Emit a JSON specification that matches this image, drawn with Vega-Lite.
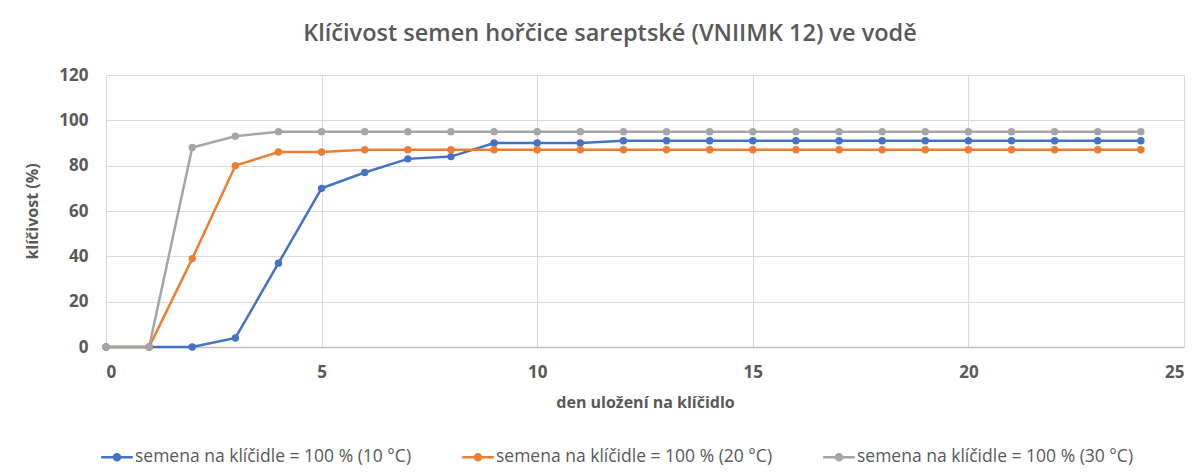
{
  "$schema": "https://vega.github.io/schema/vega-lite/v6.json",
  "width": 1078,
  "height": 272,
  "autosize": "none",
  "padding": {"left": 106, "top": 75, "right": 20, "bottom": 128},
  "background": "#ffffff",
  "title": {
    "text": "Klíčivost semen hořčice sareptské (VNIIMK 12) ve vodě",
    "font": "Open Sans",
    "fontSize": 23.5,
    "fontWeight": 600,
    "color": "#595959",
    "anchor": "middle",
    "dx": -35,
    "offset": 21
  },
  "data": {
    "values": [
      {"d":0,"v":0,"s":"semena na klíčidle = 100 % (10 °C)"},
      {"d":1,"v":0,"s":"semena na klíčidle = 100 % (10 °C)"},
      {"d":2,"v":0,"s":"semena na klíčidle = 100 % (10 °C)"},
      {"d":3,"v":4,"s":"semena na klíčidle = 100 % (10 °C)"},
      {"d":4,"v":37,"s":"semena na klíčidle = 100 % (10 °C)"},
      {"d":5,"v":70,"s":"semena na klíčidle = 100 % (10 °C)"},
      {"d":6,"v":77,"s":"semena na klíčidle = 100 % (10 °C)"},
      {"d":7,"v":83,"s":"semena na klíčidle = 100 % (10 °C)"},
      {"d":8,"v":84,"s":"semena na klíčidle = 100 % (10 °C)"},
      {"d":9,"v":90,"s":"semena na klíčidle = 100 % (10 °C)"},
      {"d":10,"v":90,"s":"semena na klíčidle = 100 % (10 °C)"},
      {"d":11,"v":90,"s":"semena na klíčidle = 100 % (10 °C)"},
      {"d":12,"v":91,"s":"semena na klíčidle = 100 % (10 °C)"},
      {"d":13,"v":91,"s":"semena na klíčidle = 100 % (10 °C)"},
      {"d":14,"v":91,"s":"semena na klíčidle = 100 % (10 °C)"},
      {"d":15,"v":91,"s":"semena na klíčidle = 100 % (10 °C)"},
      {"d":16,"v":91,"s":"semena na klíčidle = 100 % (10 °C)"},
      {"d":17,"v":91,"s":"semena na klíčidle = 100 % (10 °C)"},
      {"d":18,"v":91,"s":"semena na klíčidle = 100 % (10 °C)"},
      {"d":19,"v":91,"s":"semena na klíčidle = 100 % (10 °C)"},
      {"d":20,"v":91,"s":"semena na klíčidle = 100 % (10 °C)"},
      {"d":21,"v":91,"s":"semena na klíčidle = 100 % (10 °C)"},
      {"d":22,"v":91,"s":"semena na klíčidle = 100 % (10 °C)"},
      {"d":23,"v":91,"s":"semena na klíčidle = 100 % (10 °C)"},
      {"d":24,"v":91,"s":"semena na klíčidle = 100 % (10 °C)"},
      {"d":0,"v":0,"s":"semena na klíčidle = 100 % (20 °C)"},
      {"d":1,"v":0,"s":"semena na klíčidle = 100 % (20 °C)"},
      {"d":2,"v":39,"s":"semena na klíčidle = 100 % (20 °C)"},
      {"d":3,"v":80,"s":"semena na klíčidle = 100 % (20 °C)"},
      {"d":4,"v":86,"s":"semena na klíčidle = 100 % (20 °C)"},
      {"d":5,"v":86,"s":"semena na klíčidle = 100 % (20 °C)"},
      {"d":6,"v":87,"s":"semena na klíčidle = 100 % (20 °C)"},
      {"d":7,"v":87,"s":"semena na klíčidle = 100 % (20 °C)"},
      {"d":8,"v":87,"s":"semena na klíčidle = 100 % (20 °C)"},
      {"d":9,"v":87,"s":"semena na klíčidle = 100 % (20 °C)"},
      {"d":10,"v":87,"s":"semena na klíčidle = 100 % (20 °C)"},
      {"d":11,"v":87,"s":"semena na klíčidle = 100 % (20 °C)"},
      {"d":12,"v":87,"s":"semena na klíčidle = 100 % (20 °C)"},
      {"d":13,"v":87,"s":"semena na klíčidle = 100 % (20 °C)"},
      {"d":14,"v":87,"s":"semena na klíčidle = 100 % (20 °C)"},
      {"d":15,"v":87,"s":"semena na klíčidle = 100 % (20 °C)"},
      {"d":16,"v":87,"s":"semena na klíčidle = 100 % (20 °C)"},
      {"d":17,"v":87,"s":"semena na klíčidle = 100 % (20 °C)"},
      {"d":18,"v":87,"s":"semena na klíčidle = 100 % (20 °C)"},
      {"d":19,"v":87,"s":"semena na klíčidle = 100 % (20 °C)"},
      {"d":20,"v":87,"s":"semena na klíčidle = 100 % (20 °C)"},
      {"d":21,"v":87,"s":"semena na klíčidle = 100 % (20 °C)"},
      {"d":22,"v":87,"s":"semena na klíčidle = 100 % (20 °C)"},
      {"d":23,"v":87,"s":"semena na klíčidle = 100 % (20 °C)"},
      {"d":24,"v":87,"s":"semena na klíčidle = 100 % (20 °C)"},
      {"d":0,"v":0,"s":"semena na klíčidle = 100 % (30 °C)"},
      {"d":1,"v":0,"s":"semena na klíčidle = 100 % (30 °C)"},
      {"d":2,"v":88,"s":"semena na klíčidle = 100 % (30 °C)"},
      {"d":3,"v":93,"s":"semena na klíčidle = 100 % (30 °C)"},
      {"d":4,"v":95,"s":"semena na klíčidle = 100 % (30 °C)"},
      {"d":5,"v":95,"s":"semena na klíčidle = 100 % (30 °C)"},
      {"d":6,"v":95,"s":"semena na klíčidle = 100 % (30 °C)"},
      {"d":7,"v":95,"s":"semena na klíčidle = 100 % (30 °C)"},
      {"d":8,"v":95,"s":"semena na klíčidle = 100 % (30 °C)"},
      {"d":9,"v":95,"s":"semena na klíčidle = 100 % (30 °C)"},
      {"d":10,"v":95,"s":"semena na klíčidle = 100 % (30 °C)"},
      {"d":11,"v":95,"s":"semena na klíčidle = 100 % (30 °C)"},
      {"d":12,"v":95,"s":"semena na klíčidle = 100 % (30 °C)"},
      {"d":13,"v":95,"s":"semena na klíčidle = 100 % (30 °C)"},
      {"d":14,"v":95,"s":"semena na klíčidle = 100 % (30 °C)"},
      {"d":15,"v":95,"s":"semena na klíčidle = 100 % (30 °C)"},
      {"d":16,"v":95,"s":"semena na klíčidle = 100 % (30 °C)"},
      {"d":17,"v":95,"s":"semena na klíčidle = 100 % (30 °C)"},
      {"d":18,"v":95,"s":"semena na klíčidle = 100 % (30 °C)"},
      {"d":19,"v":95,"s":"semena na klíčidle = 100 % (30 °C)"},
      {"d":20,"v":95,"s":"semena na klíčidle = 100 % (30 °C)"},
      {"d":21,"v":95,"s":"semena na klíčidle = 100 % (30 °C)"},
      {"d":22,"v":95,"s":"semena na klíčidle = 100 % (30 °C)"},
      {"d":23,"v":95,"s":"semena na klíčidle = 100 % (30 °C)"},
      {"d":24,"v":95,"s":"semena na klíčidle = 100 % (30 °C)"}
    ]
  },
  "mark": {
    "type": "line",
    "strokeWidth": 2.5,
    "point": {"filled": true, "size": 55}
  },
  "encoding": {
    "x": {
      "field": "d",
      "type": "quantitative",
      "scale": {"domain": [0, 25], "nice": false, "zero": true},
      "axis": {
        "title": "den uložení na klíčidlo",
        "values": [0, 5, 10, 15, 20, 25],
        "format": "d",
        "ticks": false,
        "labelPadding": 17,
        "titlePadding": 14,
        "domainColor": "#bfbfbf",
        "domainWidth": 1.5
      }
    },
    "y": {
      "field": "v",
      "type": "quantitative",
      "scale": {"domain": [0, 120], "nice": false},
      "axis": {
        "title": "klíčivost (%)",
        "values": [0, 20, 40, 60, 80, 100, 120],
        "ticks": false,
        "domain": false,
        "labelPadding": 18,
        "titlePadding": 18
      }
    },
    "color": {
      "field": "s",
      "type": "nominal",
      "scale": {"range": ["#4472C4", "#ED7D31", "#A5A5A5"]},
      "legend": {
        "title": null,
        "orient": "none",
        "direction": "horizontal",
        "columns": 3,
        "legendX": -5,
        "legendY": 366,
        "symbolType": "M-1,-0.08L1,-0.08L1,0.08L-1,0.08Z M-0.27,0A0.27,0.27,0,1,1,0.27,0A0.27,0.27,0,1,1,-0.27,0Z",
        "symbolSize": 1000,
        "symbolStrokeWidth": 0,
        "labelFont": "Open Sans",
        "labelFontSize": 17.5,
        "labelColor": "#595959",
        "labelLimit": 400,
        "labelOffset": 2,
        "columnPadding": 50,
        "encode": {
          "symbols": {"update": {"fill": {"scale": "color", "field": "value"}, "fillOpacity": {"value": 1}}}
        }
      }
    }
  },
  "config": {
    "view": {"stroke": null},
    "axis": {
      "gridColor": "#d9d9d9",
      "gridWidth": 1,
      "labelFont": "Open Sans",
      "labelFontSize": 17,
      "labelFontWeight": "bold",
      "labelColor": "#595959",
      "titleFont": "Open Sans",
      "titleFontSize": 16,
      "titleFontWeight": "bold",
      "titleColor": "#595959"
    }
  }
}
